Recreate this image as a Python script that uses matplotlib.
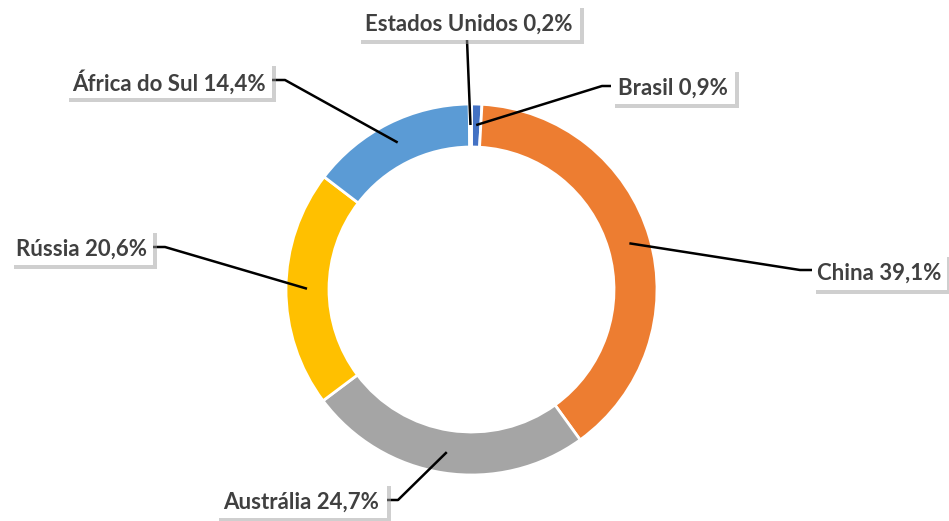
import matplotlib.pyplot as plt
import matplotlib.patheffects as pe
from matplotlib.patches import Rectangle
import numpy as np

countries = ["Brasil", "China", "Austrália", "Rússia", "África do Sul", "Estados Unidos"]
shares = [0.9, 39.1, 24.7, 20.6, 14.4, 0.2]
share_text = ["0,9%", "39,1%", "24,7%", "20,6%", "14,4%", "0,2%"]
colors = ["#4472C4", "#ED7D31", "#A5A5A5", "#FFC000", "#5B9BD5", "#70AD47"]

W, H = 949, 521

# label boxes in pixel coords (left, top, right, bottom) and leader elbows
boxes = [
    (611, 68, 735, 104),
    (812, 253, 947, 290),
    (215, 482, 387, 518),
    (10, 229, 153, 265),
    (65, 62, 272, 98),
    (357, 4, 580, 40),
]
elbows = [
    [(602, 86), (611, 86)],
    [(800, 270), (812, 270)],
    [(398, 500), (387, 500)],
    [(165, 247), (153, 247)],
    [(285, 80), (272, 80)],
    [(467, 40)],
]

cx, cy = 471.5, H - 289.5
r_out, ring = 185.5, 43

fig = plt.figure(figsize=(W / 100, H / 100), dpi=100)
ax = fig.add_axes([0, 0, 1, 1])

wedges, _ = ax.pie(
    shares,
    colors=colors,
    startangle=90,
    counterclock=False,
    radius=r_out,
    center=(cx, cy),
    wedgeprops=dict(width=ring, edgecolor="white", linewidth=2),
)

ax.set_xlim(0, W)
ax.set_ylim(0, H)
ax.set_aspect("equal")
ax.axis("off")

r_mid = r_out - ring / 2 + 0.5
for w, box, elb, name, txt in zip(wedges, boxes, elbows, countries, share_text):
    mid = np.deg2rad((w.theta1 + w.theta2) / 2)
    px, py = cx + r_mid * np.cos(mid), cy + r_mid * np.sin(mid)
    xs = [px] + [e[0] for e in elb]
    ys = [py] + [H - e[1] for e in elb]
    ax.plot(xs, ys, color="black", lw=1.8, solid_capstyle="butt", zorder=3)

    l, t, r, b = box
    rect = Rectangle((l, H - b), r - l, b - t, facecolor="white", edgecolor="none", zorder=4)
    rect.set_path_effects([
        pe.SimplePatchShadow(offset=(3, -3), shadow_rgbFace="#a0a0a0", alpha=0.5),
        pe.Normal(),
    ])
    ax.add_patch(rect)
    ax.text((l + r) / 2, H - (t + b) / 2, f"{name} {txt}",
            ha="center", va="center_baseline", fontsize=16, fontweight="bold",
            family=["Lato", "DejaVu Sans"], color="#404040", zorder=5)

fig.savefig("out.png", dpi=100)
